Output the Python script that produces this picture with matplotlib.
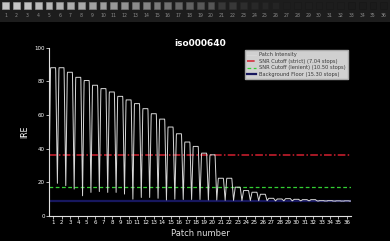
import numpy as np
import matplotlib
matplotlib.use("Agg")
import matplotlib.pyplot as plt
from matplotlib.patches import Rectangle

# patch numbers and readings (IRE)
patches = list(range(1, 37))
tops = [88.0, 88.0, 85.3, 82.3, 80.4, 77.6, 75.6, 73.6, 71.0, 68.9,
        66.7, 63.7, 60.7, 57.5, 52.8, 48.8, 43.9, 41.3, 37.3, 36.3,
        22.4, 22.4, 17.1, 15.1, 14.1, 12.9, 10.5, 10.1, 10.3, 9.9,
        9.7, 9.7, 9.1, 9.1, 9.0, 9.0]
start_level = 19.0
valleys = [19.4, 18.0, 16.0, 12.0, 14.0, 14.5, 14.0, 14.0, 13.0, 10.0,
           11.0, 11.0, 10.5, 9.5, 10.0, 9.8, 9.8, 9.8, 9.5, 9.5,
           9.3, 9.3, 9.2, 9.2, 9.1, 9.1, 9.0, 9.0, 9.0, 9.0,
           9.0, 8.9, 8.9, 8.9, 8.9, 8.9]

strict_cut = 36.3
lenient_cut = 17.3
floor_level = 9.0

title = "iso000640"
legend_labels = ["Patch Intensity", "SNR Cutoff (strict) (7.04 stops)",
                 "SNR Cutoff (lenient) (10.50 stops)", "Background Floor (15.30 stops)"]

W, H = 390, 241
fig = plt.figure(figsize=(W / 100, H / 100), dpi=100, facecolor="black")

# ---- strip of patch swatches on top ----
strip_h = 22
sax = fig.add_axes([0, 1 - strip_h / H, 1, strip_h / H])
sax.set_xlim(0, W)
sax.set_ylim(strip_h, 0)
sax.axis("off")
sax.add_patch(Rectangle((0, 0), W, strip_h, color="#1d1d1d", zorder=0))
x0, step, sq = 5.7, 10.8, 6.8
for i, p in enumerate(patches):
    g = min(1.0, 0.03 + 0.85 * tops[i] / 100)
    cx = x0 + i * step
    sax.add_patch(Rectangle((cx - sq / 2, 2.4), sq, sq,
                            facecolor=(g, g, g), edgecolor=(g * 0.85, g * 0.85, g * 0.85), lw=0.4))
    sax.text(cx, 15.8, str(p), color="#8c8c8c", fontsize=3.3, ha="center", va="center")

# ---- main profile plot ----
ax = fig.add_axes([49 / W, (H - 216) / H, (351 - 49) / W, (216 - 47.5) / H])
ax.set_facecolor("black")

xs = [0.5]
ys = [start_level]
for i, p in enumerate(patches):
    xs += [p - 0.32, p - 0.3, p + 0.28, p + 0.3, p + 0.5]
    ys += [tops[i] * 0.98, tops[i], tops[i], tops[i] * 0.98, valleys[i]]

ax.axhline(floor_level, color="#17175e", lw=1.6, zorder=1, label=legend_labels[3])
ax.plot(xs, ys, color="#d8d8d8", lw=0.7, zorder=3, label=legend_labels[0])
ax.axhline(strict_cut, color="#d42030", lw=1.1, ls=(0, (5, 1.5, 1, 1.5)), zorder=2, label=legend_labels[1])
ax.axhline(lenient_cut, color="#33d033", lw=0.9, ls=(0, (3, 2)), zorder=2, label=legend_labels[2])

ax.set_xlim(0.5, 36.5)
ax.set_ylim(0, 100)
ax.set_xticks(patches)
ax.set_yticks([0, 20, 40, 60, 80, 100])
for s in ["top", "right"]:
    ax.spines[s].set_visible(False)
for s in ["left", "bottom"]:
    ax.spines[s].set_color("#e0e0e0")
    ax.spines[s].set_linewidth(0.8)
ax.tick_params(colors="white", labelsize=4, length=2, width=0.5, pad=1)
ax.set_ylabel("IRE", color="white", fontsize=5.5, labelpad=4)
ax.set_xlabel("Patch number", color="#e0e0e0", fontsize=6, labelpad=3)
ax.set_title(title, color="white", fontsize=6.5, fontweight="bold", pad=1)

h, l = ax.get_legend_handles_labels()
order = [l.index(t) for t in legend_labels]
leg = ax.legend([h[k] for k in order], [l[k] for k in order], loc="upper right",
                fontsize=3.7, frameon=True, facecolor="#d0d0d0", edgecolor="#a8a8a8",
                framealpha=1, fancybox=False, borderaxespad=0.5, handlelength=1.8,
                handletextpad=0.6, labelspacing=0.3, borderpad=0.45)
for t in leg.get_texts():
    t.set_color("#3a3a3a")

fig.savefig("out.png", dpi=100, facecolor="black")
